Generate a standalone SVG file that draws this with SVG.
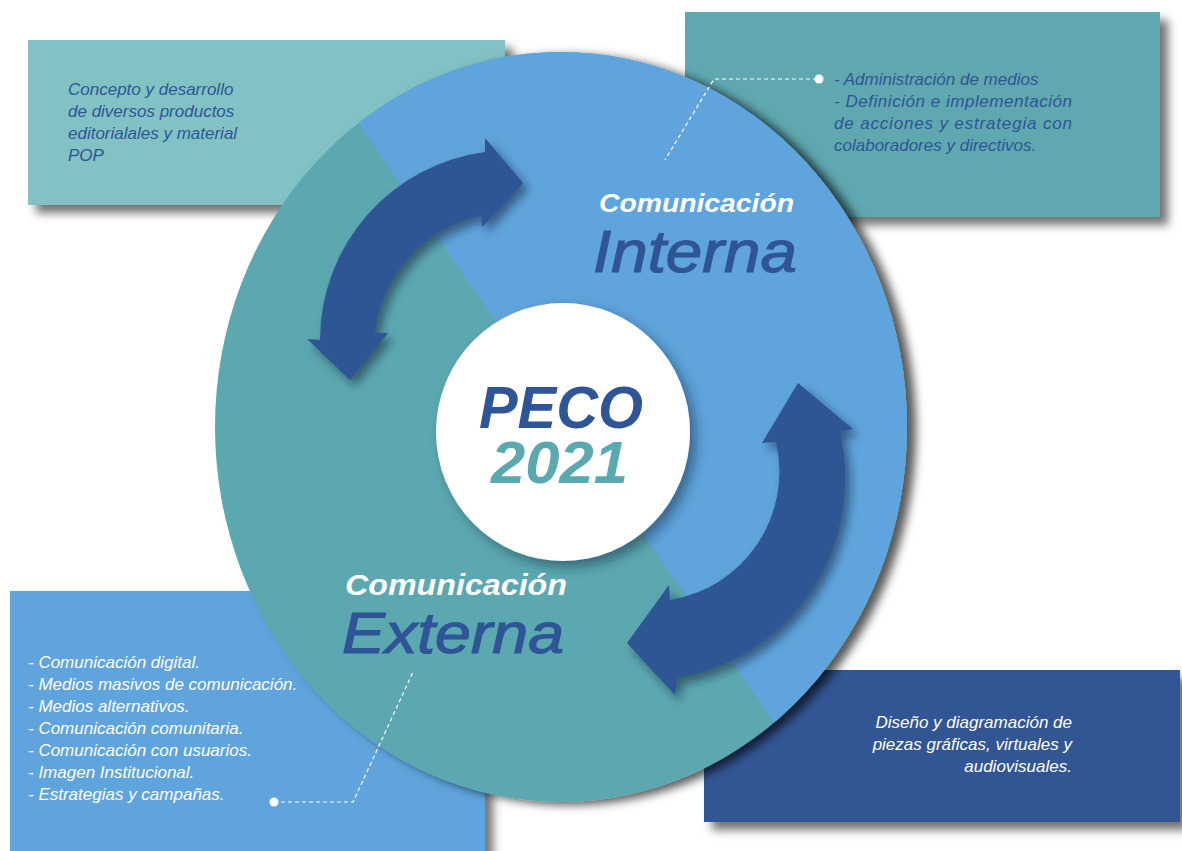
<svg xmlns="http://www.w3.org/2000/svg" width="1182" height="851" viewBox="0 0 1182 851">
<defs>
<style>
.body{font-family:"Liberation Sans",Arial,sans-serif;font-style:italic;font-size:17px}
.dk{fill:#2f5596}
.wt{fill:#ffffff}
.head{font-family:"Liberation Sans",Arial,sans-serif;font-style:italic;font-weight:bold;fill:#ffffff}
.big{font-family:"Liberation Sans",Arial,sans-serif;font-style:italic;fill:#2f5596;stroke:#2f5596;stroke-width:1.2}
.dash{fill:none;stroke:#ffffff;stroke-width:1.2;stroke-dasharray:4 3}
.arrow{fill:#2f5694;filter:url(#arrowSh)}
</style>
<filter id="boxSh" x="-10%" y="-20%" width="130%" height="150%">
<feDropShadow dx="8" dy="8" stdDeviation="5" flood-color="#000" flood-opacity="0.55"/>
</filter>
<filter id="circSh" x="-10%" y="-10%" width="125%" height="125%">
<feDropShadow dx="9" dy="3" stdDeviation="5" flood-color="#000" flood-opacity="0.65"/>
</filter>
<filter id="arrowSh" x="-20%" y="-20%" width="150%" height="150%">
<feDropShadow dx="5" dy="6" stdDeviation="5" flood-color="#0a1f3a" flood-opacity="0.55"/>
</filter>
<filter id="whiteSh" x="-20%" y="-20%" width="150%" height="150%">
<feDropShadow dx="6" dy="6" stdDeviation="6" flood-color="#0a2a40" flood-opacity="0.5"/>
</filter>
<clipPath id="circClip"><ellipse cx="561" cy="427" rx="346" ry="375"/></clipPath>
</defs>
<rect width="1182" height="851" fill="#ffffff"/>

<g id="box-top-left">
<rect x="28" y="40" width="477" height="165" fill="#82c2c5" filter="url(#boxSh)"/>
<text class="body dk"><tspan x="68" y="95">Concepto y desarrollo</tspan><tspan x="68" y="117">de diversos productos</tspan><tspan x="68" y="139">editorialales y material</tspan><tspan x="68" y="161">POP</tspan></text>
</g>

<g id="box-top-right">
<rect x="685" y="12" width="475" height="205" fill="#5ea8b0" filter="url(#boxSh)"/>
<text class="body dk"><tspan x="834" y="85">- Administración de medios</tspan></text>
<text class="body dk" x="834" y="107" textLength="238" lengthAdjust="spacing">- Definición e implementación</text>
<text class="body dk" x="834" y="129" textLength="238" lengthAdjust="spacing">de acciones y estrategia con</text>
<text class="body dk" x="834" y="151">colaboradores y directivos.</text>
</g>

<g id="box-bottom-left">
<rect x="10" y="591" width="475" height="270" fill="#5fa4dc" filter="url(#boxSh)"/>
<text class="body wt"><tspan x="28" y="668">- Comunicación digital.</tspan><tspan x="28" y="690">- Medios masivos de comunicación.</tspan><tspan x="28" y="712">- Medios alternativos.</tspan><tspan x="28" y="734">- Comunicación comunitaria.</tspan><tspan x="28" y="756">- Comunicación con usuarios.</tspan><tspan x="28" y="778">- Imagen Institucional.</tspan><tspan x="28" y="800">- Estrategias y campañas.</tspan></text>
</g>

<g id="box-bottom-right">
<rect x="704" y="670" width="476" height="152" fill="#305694" filter="url(#boxSh)"/>
<text class="body wt" text-anchor="end"><tspan x="1072" y="728">Diseño y diagramación de</tspan><tspan x="1072" y="750">piezas gráficas, virtuales y</tspan><tspan x="1072" y="772">audiovisuales.</tspan></text>
</g>

<g id="main-circle">
<ellipse cx="561" cy="427" rx="346" ry="375" fill="#5ca8b0" filter="url(#circSh)"/>
<polygon points="273,0 1182,0 1182,851 863,851" fill="#5fa4dc" clip-path="url(#circClip)"/>
</g>

<g id="arrows">
<path class="arrow" d="M482,215 L482,227 L523,183 L485,138 L485,152 A190,190 0 0 0 320,340 L307,339 L350,380 L388,333 L375,333 A136,136 0 0 1 482,215 Z"/>
<path class="arrow" d="M776,442 L762,443 L798,383 L853,429 L840,432 A203,203 0 0 1 677,678 L675,695 L627,643 L669,585 L670,600 A130,130 0 0 0 776,442 Z"/>
</g>

<g id="center">
<ellipse cx="563" cy="432" rx="127" ry="129" fill="#ffffff" filter="url(#whiteSh)"/>
<text x="479" y="428" font-family="'Liberation Sans',Arial,sans-serif" font-style="italic" font-weight="bold" font-size="60" fill="#2e5597" textLength="164" lengthAdjust="spacingAndGlyphs">PECO</text>
<text x="491" y="483" font-family="'Liberation Sans',Arial,sans-serif" font-style="italic" font-weight="bold" font-size="60" fill="#5aa9b1" textLength="137" lengthAdjust="spacingAndGlyphs">2021</text>
</g>

<g id="label-interna">
<text class="head" x="599" y="212" font-size="26" textLength="195" lengthAdjust="spacingAndGlyphs">Comunicación</text>
<text class="big" x="593" y="272" font-size="59" textLength="204" lengthAdjust="spacingAndGlyphs">Interna</text>
</g>

<g id="label-externa">
<text class="head" x="345" y="595" font-size="29" textLength="222" lengthAdjust="spacingAndGlyphs">Comunicación</text>
<text class="big" x="342" y="653" font-size="58" textLength="222" lengthAdjust="spacingAndGlyphs">Externa</text>
</g>

<g id="connectors">
<polyline class="dash" points="817,79 714,79 665,160"/>
<circle cx="819" cy="79" r="4.5" fill="#ffffff"/>
<polyline class="dash" points="274,802 353,802 413,672"/>
<circle cx="274" cy="802" r="4.5" fill="#ffffff"/>
</g>
</svg>
